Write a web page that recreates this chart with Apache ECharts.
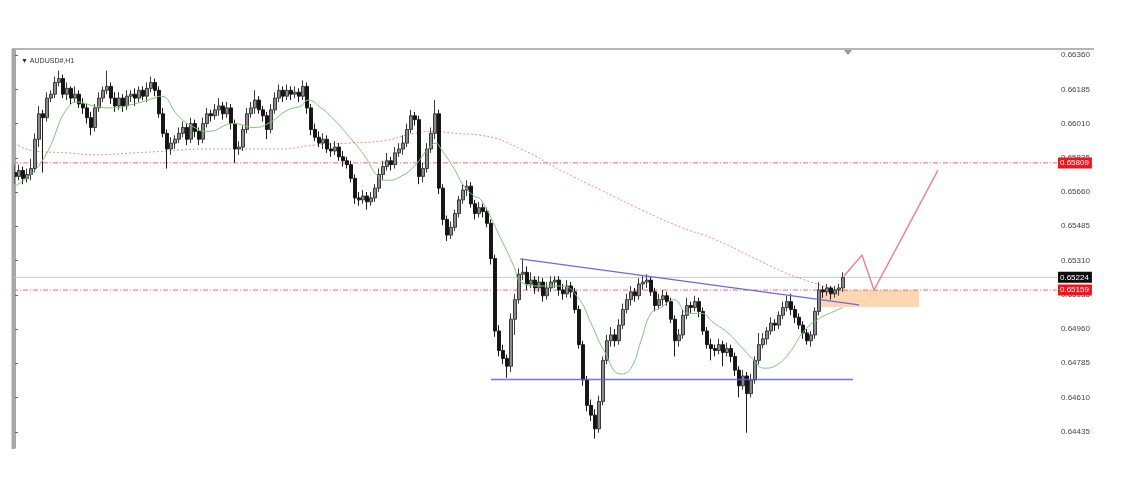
<!DOCTYPE html>
<html>
<head>
<meta charset="utf-8">
<script src="https://cdn.jsdelivr.net/npm/echarts@6/dist/echarts.min.js"></script>
<style>
html,body{margin:0;padding:0;background:#fff;}
#chart{width:1134px;height:490px;}
</style>
</head>
<body>
<div id="chart"></div>
<script>
// ---- data ----
const symbolLabel = 'AUDUSD#,H1';
const tickLabels = [0.66360,0.66185,0.66010,0.65835,0.65660,0.65485,0.65310,0.65135,0.64960,0.64785,0.64610,0.64435];
const opens = [
0.6576,0.6574,0.6577,0.6573,0.6575,0.6578,0.6593,0.6606,0.6604,0.6614,
0.6616,0.6622,0.6624,0.6616,0.6619,0.6614,0.6616,0.6611,0.6609,0.6604,
0.6599,0.6609,0.6614,0.6618,0.6620,0.6614,0.6610,0.6614,0.6610,0.6615,
0.6616,0.6614,0.6618,0.6615,0.6619,0.6622,0.6618,0.6606,0.6596,0.6588,
0.6591,0.6593,0.6596,0.6599,0.6593,0.6601,0.6597,0.6593,0.6601,0.6606,
0.6605,0.6608,0.6610,0.6606,0.6609,0.6601,0.6588,0.6589,0.6598,0.6606,
0.6609,0.6613,0.6608,0.6605,0.6598,0.6608,0.6614,0.6618,0.6615,0.6618,
0.6616,0.6617,0.6615,0.6620,0.6609,0.6598,0.6594,0.6591,0.6593,0.6588,
0.6587,0.6589,0.6584,0.6582,0.6580,0.6573,0.6563,0.6562,0.6564,0.6561,
0.6563,0.6568,0.6575,0.6579,0.6582,0.6580,0.6586,0.6588,0.6591,0.6598,
0.6605,0.6603,0.6574,0.6578,0.6588,0.6596,0.6606,0.6568,0.6552,0.6544,
0.6548,0.6555,0.6562,0.6567,0.6569,0.6560,0.6555,0.6558,0.6556,0.6550,
0.6532,0.6495,0.6485,0.6481,0.6477,0.6501,0.6511,0.6524,0.6525,0.6519,
0.6521,0.6517,0.6520,0.6513,0.6517,0.6520,0.6521,0.6516,0.6514,0.6518,
0.6515,0.6506,0.6488,0.6470,0.6457,0.6452,0.6445,0.6459,0.6480,0.6490,
0.6493,0.6490,0.6498,0.6506,0.6511,0.6515,0.6513,0.6519,0.6520,0.6521,
0.6515,0.6508,0.6511,0.6513,0.6510,0.6501,0.6490,0.6493,0.6503,0.6508,
0.6507,0.6510,0.6505,0.6495,0.6488,0.6486,0.6485,0.6488,0.6484,0.6486,
0.6482,0.6475,0.6467,0.6472,0.6463,0.6470,0.6480,0.6488,0.6491,0.6495,
0.6499,0.6498,0.6503,0.6507,0.6510,0.6506,0.6502,0.6498,0.6494,0.6490,
0.6493,0.6505,0.6516,0.6515,0.6517,0.6514,0.6516,0.6517];
const closes = [
0.6574,0.6577,0.6573,0.6575,0.6578,0.6593,0.6606,0.6604,0.6614,0.6616,
0.6622,0.6624,0.6616,0.6619,0.6614,0.6616,0.6611,0.6609,0.6604,0.6599,
0.6609,0.6614,0.6618,0.6620,0.6614,0.6610,0.6614,0.6610,0.6615,0.6616,
0.6614,0.6618,0.6615,0.6619,0.6622,0.6618,0.6606,0.6596,0.6588,0.6591,
0.6593,0.6596,0.6599,0.6593,0.6601,0.6597,0.6593,0.6601,0.6606,0.6605,
0.6608,0.6610,0.6606,0.6609,0.6601,0.6588,0.6589,0.6598,0.6606,0.6609,
0.6613,0.6608,0.6605,0.6598,0.6608,0.6614,0.6618,0.6615,0.6618,0.6616,
0.6617,0.6615,0.6620,0.6609,0.6598,0.6594,0.6591,0.6593,0.6588,0.6587,
0.6589,0.6584,0.6582,0.6580,0.6573,0.6563,0.6562,0.6564,0.6561,0.6563,
0.6568,0.6575,0.6579,0.6582,0.6580,0.6586,0.6588,0.6591,0.6598,0.6605,
0.6603,0.6574,0.6578,0.6588,0.6596,0.6606,0.6568,0.6552,0.6544,0.6548,
0.6555,0.6562,0.6567,0.6569,0.6560,0.6555,0.6558,0.6556,0.6550,0.6532,
0.6495,0.6485,0.6481,0.6477,0.6501,0.6511,0.6524,0.6525,0.6519,0.6521,
0.6517,0.6520,0.6513,0.6517,0.6520,0.6521,0.6516,0.6514,0.6518,0.6515,
0.6506,0.6488,0.6470,0.6457,0.6452,0.6445,0.6459,0.6480,0.6490,0.6493,
0.6490,0.6498,0.6506,0.6511,0.6515,0.6513,0.6519,0.6520,0.6521,0.6515,
0.6508,0.6511,0.6513,0.6510,0.6501,0.6490,0.6493,0.6503,0.6508,0.6507,
0.6510,0.6505,0.6495,0.6488,0.6486,0.6485,0.6488,0.6484,0.6486,0.6482,
0.6475,0.6467,0.6472,0.6463,0.6470,0.6480,0.6488,0.6491,0.6495,0.6499,
0.6498,0.6503,0.6507,0.6510,0.6506,0.6502,0.6498,0.6494,0.6490,0.6493,
0.6505,0.6516,0.6515,0.6517,0.6514,0.6516,0.6517,0.65224];
const highs = [
0.6580,0.6580,0.6579,0.6578,0.6583,0.6596,0.6610,0.6608,0.6617,0.6618,
0.6625,0.6628,0.6626,0.6622,0.6620,0.6620,0.6618,0.6614,0.6611,0.6607,
0.6611,0.6617,0.6620,0.6628,0.6622,0.6617,0.6617,0.6616,0.6618,0.6618,
0.6619,0.6620,0.6620,0.6622,0.6625,0.6624,0.6620,0.6609,0.6598,0.6594,
0.6595,0.6599,0.6602,0.6601,0.6604,0.6603,0.6599,0.6604,0.6609,0.6608,
0.6611,0.6614,0.6612,0.6612,0.6611,0.6603,0.6592,0.6600,0.6609,0.6612,
0.6618,0.6615,0.6610,0.6607,0.6611,0.6617,0.6621,0.6620,0.6621,0.6620,
0.6620,0.6619,0.6623,0.6622,0.6611,0.6601,0.6597,0.6596,0.6595,0.6591,
0.6592,0.6591,0.6587,0.6584,0.6582,0.6575,0.6566,0.6567,0.6566,0.6566,
0.6570,0.6578,0.6582,0.6586,0.6584,0.6589,0.6591,0.6595,0.6601,0.6608,
0.6607,0.6605,0.6581,0.6591,0.6599,0.6613,0.6608,0.6570,0.6554,0.6551,
0.6557,0.6564,0.6570,0.6572,0.6571,0.6562,0.6561,0.6560,0.6558,0.6552,
0.6534,0.6498,0.6488,0.6483,0.6504,0.6514,0.6527,0.6532,0.6528,0.6525,
0.6523,0.6523,0.6522,0.6520,0.6523,0.6523,0.6523,0.6519,0.6521,0.6520,
0.6517,0.6508,0.6490,0.6472,0.6460,0.6455,0.6462,0.6482,0.6493,0.6497,
0.6496,0.6501,0.6509,0.6514,0.6518,0.6517,0.6522,0.6523,0.6524,0.6523,
0.6517,0.6514,0.6516,0.6515,0.6512,0.6503,0.6496,0.6506,0.6512,0.6510,
0.6513,0.6512,0.6507,0.6497,0.6491,0.6488,0.6491,0.6490,0.6489,0.6488,
0.6484,0.6477,0.6475,0.6474,0.6473,0.6482,0.6494,0.6494,0.6497,0.6502,
0.6501,0.6505,0.6510,0.6513,0.6514,0.6508,0.6504,0.6500,0.6496,0.6495,
0.6507,0.6520,0.6518,0.6519,0.6518,0.6518,0.6519,0.6525];
const lows = [
0.6570,0.6572,0.6570,0.6571,0.6572,0.6576,0.6589,0.6576,0.6602,0.6612,
0.6614,0.6620,0.6614,0.6613,0.6611,0.6612,0.6609,0.6606,0.6601,0.6595,
0.6597,0.6607,0.6612,0.6616,0.6611,0.6607,0.6608,0.6607,0.6608,0.6612,
0.6610,0.6612,0.6613,0.6612,0.6617,0.6615,0.6604,0.6594,0.6578,0.6585,
0.6588,0.6591,0.6594,0.6590,0.6591,0.6594,0.6590,0.6591,0.6599,0.6602,
0.6603,0.6605,0.6603,0.6604,0.6598,0.6581,0.6585,0.6587,0.6596,0.6604,
0.6606,0.6606,0.6602,0.6593,0.6596,0.6606,0.6612,0.6612,0.6613,0.6613,
0.6614,0.6612,0.6613,0.6606,0.6595,0.6592,0.6589,0.6588,0.6586,0.6584,
0.6585,0.6582,0.6579,0.6578,0.6571,0.6560,0.6559,0.6560,0.6557,0.6559,
0.6561,0.6566,0.6572,0.6577,0.6577,0.6578,0.6584,0.6585,0.6589,0.6596,
0.6600,0.6570,0.6571,0.6576,0.6586,0.6593,0.6565,0.6549,0.6541,0.6542,
0.6546,0.6553,0.6560,0.6564,0.6558,0.6552,0.6553,0.6553,0.6548,0.6529,
0.6492,0.6482,0.6478,0.6471,0.6474,0.6493,0.6509,0.6521,0.6516,0.6517,
0.6514,0.6515,0.6510,0.6511,0.6515,0.6517,0.6513,0.6511,0.6512,0.6512,
0.6504,0.6486,0.6467,0.6454,0.6449,0.6440,0.6443,0.6457,0.6478,0.6487,
0.6487,0.6488,0.6496,0.6504,0.6508,0.6510,0.6511,0.6516,0.6517,0.6513,
0.6505,0.6506,0.6508,0.6508,0.6499,0.6482,0.6487,0.6491,0.6501,0.6504,
0.6505,0.6502,0.6493,0.6486,0.6480,0.6482,0.6483,0.6477,0.6482,0.6479,
0.6472,0.6461,0.6465,0.6443,0.6461,0.6468,0.6478,0.6486,0.6488,0.6493,
0.6495,0.6496,0.6501,0.6505,0.6503,0.6499,0.6496,0.6491,0.6488,0.6487,
0.6491,0.6503,0.6512,0.6513,0.6511,0.6512,0.6513,0.6515];
// moving averages: [bar index, price]
const maFast = [[0,0.6569],[6.5,0.6581],[14,0.6611],[15.75,0.6612],[19.75,0.6610],[24,0.6609],[29.75,0.6611],[34.75,0.6614],[36.5,0.6615],[40.75,0.6605],[44,0.6600],[48.25,0.6597],[54.75,0.6601],[59.75,0.6599],[63.25,0.6601],[68.25,0.6608],[71.5,0.6610],[73.25,0.6613],[76.5,0.6609],[79.75,0.6603],[83.25,0.6595],[87.25,0.6585],[90.75,0.6574],[93.25,0.6572],[96.5,0.6574],[99.75,0.6579],[103.25,0.6588],[105.25,0.6591],[106.5,0.6588],[109.75,0.6578],[112.25,0.6569],[114.75,0.6564],[116.5,0.6562],[121.5,0.6542],[124.75,0.6528],[126.5,0.6520],[131.5,0.6518],[136.5,0.6518],[140.75,0.6512],[144,0.6499],[147.25,0.6485],[151.5,0.6473],[154,0.6476],[156.5,0.6490],[159,0.6504],[161.5,0.6507],[164.75,0.6511],[168.25,0.6504],[171.5,0.6504],[174.75,0.6499],[178.25,0.6494],[181.5,0.6487],[184.75,0.6480],[187.25,0.6476],[190.75,0.6478],[194,0.6485],[197.25,0.6495],[200.75,0.6501],[204.75,0.6505],[207,0.6507]];
const maSlow = [[0,0.6591],[4.75,0.6587],[13.25,0.6586],[19.75,0.6585],[29.75,0.6586],[38.25,0.6587],[46.5,0.6588],[54.75,0.6588],[66.5,0.6588],[74.75,0.6590],[83.25,0.6591],[91.5,0.6592],[99.75,0.6596],[104.75,0.6597],[109.75,0.6596],[116.5,0.6595],[126.5,0.6588],[136.5,0.6577],[146.5,0.6567],[156.5,0.6557],[166.5,0.6548],[174.75,0.6542],[184,0.6533],[192.25,0.6525],[199,0.6520],[207,0.6515]];
// drawn objects
const levelHigh = 0.65809, levelLow = 0.65159, lastPrice = 0.65224;
const trendLine = [[126.25,0.65318],[211,0.65083]];
const supportLine = [[119,0.64702],[209.5,0.64702]];
const forecastPath = [[207.25,0.65231],[211.75,0.65338],[214.75,0.65159],[230.75,0.65772]];
const zoneX = [201.5, 226], zoneY = [0.65072, 0.65159];
const totalSlots = 261;

// ---- chart ----
const cats = [];
for (let i = 0; i < totalSlots; i++) cats.push(String(i));
const ohlc = opens.map((o, i) => [o, closes[i], lows[i], highs[i]]);
const font = '"Liberation Sans", Arial, sans-serif';
const xLo = -0.5, xHi = totalSlots - 0.5;

function levelSeries(value, bg, lineColor, type, z) {
  return {
    type: 'line', xAxisIndex: 1, symbol: 'none', silent: true, z: z,
    data: [[xLo, value], [xHi, value]],
    lineStyle: {color: lineColor, type: type, width: 1},
    endLabel: {show: true, formatter: value.toFixed(5), backgroundColor: bg, color: '#fff',
      fontSize: 8, fontFamily: font, padding: [2, 3, 1, 2], distance: 1}
  };
}

const chart = echarts.init(document.getElementById('chart'), null, {renderer: 'canvas'});
chart.setOption({
  animation: false,
  backgroundColor: '#fff',
  grid: {left: 13, right: 77, top: 49, bottom: 42, show: false},
  title: {text: '\u25BC ' + symbolLabel, left: 16, top: 53,
    textStyle: {fontSize: 7, fontWeight: 'normal', color: '#333', fontFamily: font}},
  xAxis: [
    {type: 'category', data: cats, boundaryGap: true, show: false},
    {type: 'value', min: xLo, max: xHi, show: false}
  ],
  yAxis: {
    type: 'value', position: 'right', min: 0.64352, max: 0.66391,
    axisLine: {show: true, lineStyle: {color: '#8a8a8a', width: 1.5}},
    axisTick: {show: true, inside: false, length: 3, customValues: tickLabels, lineStyle: {color: '#666'}},
    axisLabel: {customValues: tickLabels, formatter: v => v.toFixed(5), fontSize: 8,
      color: '#444', fontFamily: font, margin: 4},
    splitLine: {show: false}
  },
  graphic: [
    {type: 'line', shape: {x1: 12, y1: 49, x2: 1094, y2: 49}, style: {stroke: '#b5b5b5', lineWidth: 2}, z: 100},
    {type: 'line', shape: {x1: 13, y1: 49, x2: 13, y2: 449}, style: {stroke: '#a8a8a8', lineWidth: 3}, z: 100},
    {type: 'polygon', shape: {points: [[844, 50], [852, 50], [848, 55]]}, style: {fill: '#999'}, z: 100}
  ],
  series: [
    levelSeries(lastPrice, '#0d0d0d', '#c4cbd3', 'solid', 1),
    levelSeries(levelHigh, '#f0141e', '#f06a6a', [5, 2, 1, 2], 1),
    levelSeries(levelLow, '#f0141e', '#f06a6a', [5, 2, 1, 2], 1),
    {
      type: 'line', name: 'slowMA', xAxisIndex: 1, data: maSlow, smooth: true, symbol: 'none',
      lineStyle: {color: '#f08c8c', width: 1, type: [2, 2]}, z: 2
    },
    {
      type: 'candlestick', xAxisIndex: 0, data: ohlc, barWidth: 3,
      itemStyle: {color: '#8a8a8a', color0: '#151515', borderColor: '#3a3a3a', borderColor0: '#1a1a1a', borderWidth: 1},
      z: 3
    },
    {
      type: 'line', name: 'fastMA', xAxisIndex: 1, data: maFast, smooth: true, symbol: 'none',
      lineStyle: {color: '#7cc47c', width: 1}, z: 4
    },
    {
      type: 'line', xAxisIndex: 1, data: trendLine, symbol: 'none',
      lineStyle: {color: '#6a6ae0', width: 1.2}, z: 5,
      markArea: {silent: true, itemStyle: {color: 'rgba(252,205,160,0.8)'},
        data: [[{coord: [zoneX[0], zoneY[1]]}, {coord: [zoneX[1], zoneY[0]]}]]}
    },
    {
      type: 'line', xAxisIndex: 1, data: supportLine, symbol: 'none',
      itemStyle: {color: '#5c5cf0'},
      lineStyle: {color: '#5c5cf0', width: 1.3, opacity: 0.85}, z: 7
    },
    {
      type: 'line', xAxisIndex: 1, data: forecastPath, symbol: 'none',
      lineStyle: {color: '#f07f8f', width: 1.4}, z: 6
    }
  ]
});
</script>
</body>
</html>
